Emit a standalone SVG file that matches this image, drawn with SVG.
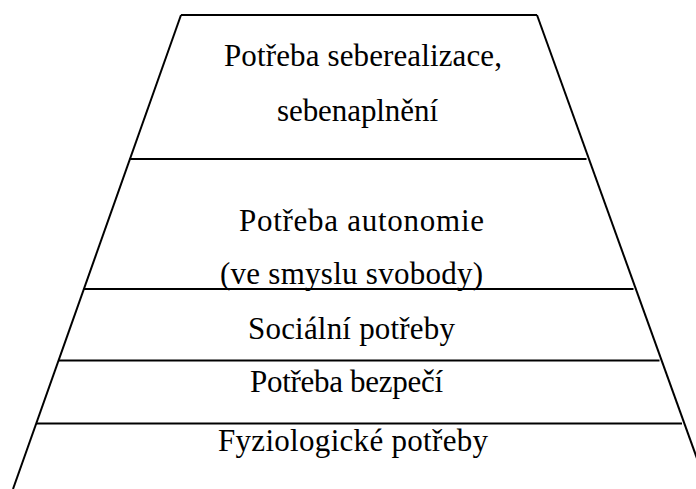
<svg xmlns="http://www.w3.org/2000/svg" width="696" height="489" viewBox="0 0 696 489">
<style>
.e{stroke:#000;stroke-width:2;fill:none}
text{font-family:'Liberation Serif','Tinos','Times New Roman','DejaVu Serif',serif;font-size:31px;fill:#000}
</style>
<rect width="696" height="489" fill="#fff"/>
<g id="connectors">
<line class="e" x1="181" y1="15" x2="537" y2="15"/>
<line class="e" x1="181" y1="15" x2="13" y2="489"/>
<line class="e" x1="537" y1="15" x2="708" y2="489"/>
<line class="e" x1="129.5" y1="159" x2="586.5" y2="159"/>
<line class="e" x1="83.5" y1="289" x2="633.5" y2="289"/>
<line class="e" x1="58.5" y1="360.5" x2="659.5" y2="360.5"/>
<line class="e" x1="36" y1="423.5" x2="682" y2="423.5"/>
</g>
<g id="n1"><text x="224" y="66" textLength="278" lengthAdjust="spacing">Potřeba seberealizace,</text><text x="277" y="121" textLength="161" lengthAdjust="spacing">sebenaplnění</text></g>
<g id="n2"><text x="239" y="231" textLength="245" lengthAdjust="spacing">Potřeba autonomie</text><text x="220" y="284" textLength="263" lengthAdjust="spacing">(ve smyslu svobody)</text></g>
<g id="n3"><text x="248" y="339" textLength="207" lengthAdjust="spacing">Sociální potřeby</text></g>
<g id="n4"><text x="250" y="392" textLength="193" lengthAdjust="spacing">Potřeba bezpečí</text></g>
<g id="n5"><text x="218" y="451" textLength="270" lengthAdjust="spacing">Fyziologické potřeby</text></g>
</svg>
